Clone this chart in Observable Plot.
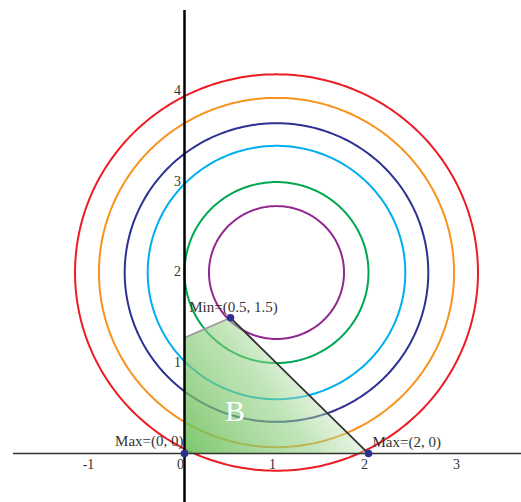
<!DOCTYPE html>
<html><head><meta charset="utf-8">
<script src="https://cdn.jsdelivr.net/npm/d3@7"></script>
<script src="https://cdn.jsdelivr.net/npm/@observablehq/plot@0.6"></script>
<style>html,body{margin:0;padding:0;background:#fff;}</style>
</head><body><div id="chart"></div>
<script>
// level-set circles centred at (1, 2)
const center = [1, 2];
const radii = [0.734, 1.0, 1.40, 1.65, 1.93, 2.19];
const circleColors = ["#92278f", "#00a651", "#00aeef", "#2e3192", "#f7931e", "#ed1c24"];
// feasible region B (boundary vertices along the top, bottom on y = 0)
const regionX = [0, 0.5, 2];
const regionTop = [1.28, 1.5, 0];
const regionLabel = "B";
const regionLabelPos = [0.55, 0.47];
// marked points
const pointNames = ["Min=(0.5, 1.5)", "Max=(0, 0)", "Max=(2, 0)"];
const pointX = [0.5, 0, 2];
const pointY = [1.5, 0, 0];
// ticks
const xTicks = [-1, 0, 1, 2, 3];
const xTickLabels = ["-1", "0", "1", "2", "3"];
const yTicks = [1, 2, 3, 4];
const yTickLabels = ["1", "2", "3", "4"];
// axis extents
const xAxisExtent = [-1.859, 3.663];
const yAxisExtent = [-0.541, 4.895];

const circleData = [];
radii.forEach((r, i) => {
  for (let k = 0; k <= 360; k++) {
    const t = k * Math.PI / 180;
    circleData.push({x: center[0] + r * Math.cos(t), y: center[1] + r * Math.sin(t), c: i});
  }
});
const region = regionX.map((x, i) => ({x, y: regionTop[i]}));
const points = pointNames.map((n, i) => ({n, x: pointX[i], y: pointY[i]}));
const serif = "'Liberation Serif', 'DejaVu Serif', serif";

const chart = Plot.plot({
  width: 521, height: 502, margin: 0,
  x: {domain: [-2.0, 3.663], axis: null},
  y: {domain: [-0.541, 5.006], axis: null},
  style: {fontFamily: serif, background: "#fff"},
  marks: [
    Plot.line(circleData, {x: "x", y: "y", z: "c", stroke: d => circleColors[d.c], strokeWidth: 2}),
    Plot.areaY(region, {x: "x", y: "y", fill: "url(#gradB)"}),
    Plot.line(region.slice(0, 2), {x: "x", y: "y", stroke: "#9a9a9a", strokeWidth: 1.6}),
    Plot.line(region.slice(1), {x: "x", y: "y", stroke: "#333", strokeWidth: 1.8}),
    Plot.ruleY([0], {x1: xAxisExtent[0], x2: xAxisExtent[1], stroke: "#333", strokeWidth: 1.5}),
    Plot.ruleX([0], {y1: yAxisExtent[0], y2: yAxisExtent[1], stroke: "#000", strokeWidth: 2.5}),
    Plot.text(xTicks, {x: d => d, y: 0, text: (d, i) => xTickLabels[i], dy: 11, dx: -4, fontSize: 14, fill: "#333"}),
    Plot.text(yTicks, {x: 0, y: d => d, text: (d, i) => yTickLabels[i], dx: -7, dy: -1, fontSize: 14, fill: "#333"}),
    Plot.dot(points, {x: "x", y: "y", r: 3.8, fill: "#2b2f8f"}),
    Plot.text(points.slice(0, 1), {x: "x", y: "y", text: "n", dx: 3, dy: -11, fontSize: 15, fill: "#333"}),
    Plot.text(points.slice(1, 2), {x: "x", y: "y", text: "n", textAnchor: "end", dx: -1, dy: -12, fontSize: 15, fill: "#333"}),
    Plot.text(points.slice(2), {x: "x", y: "y", text: "n", textAnchor: "start", dx: 4, dy: -11, fontSize: 15, fill: "#333"}),
    Plot.text([regionLabel], {x: regionLabelPos[0], y: regionLabelPos[1], text: d => d, fontSize: 30, fill: "#fff"})
  ]
});
const defs = document.createElementNS("http://www.w3.org/2000/svg", "defs");
defs.innerHTML = `<linearGradient id="gradB" x1="0" y1="0.9" x2="1" y2="0.35">
  <stop offset="0" stop-color="#6cbf5a" stop-opacity="0.85"/>
  <stop offset="0.5" stop-color="#8fcf80" stop-opacity="0.55"/>
  <stop offset="1" stop-color="#ffffff" stop-opacity="0.25"/>
</linearGradient>`;
chart.insertBefore(defs, chart.firstChild);
document.getElementById("chart").appendChild(chart);
</script></body></html>
